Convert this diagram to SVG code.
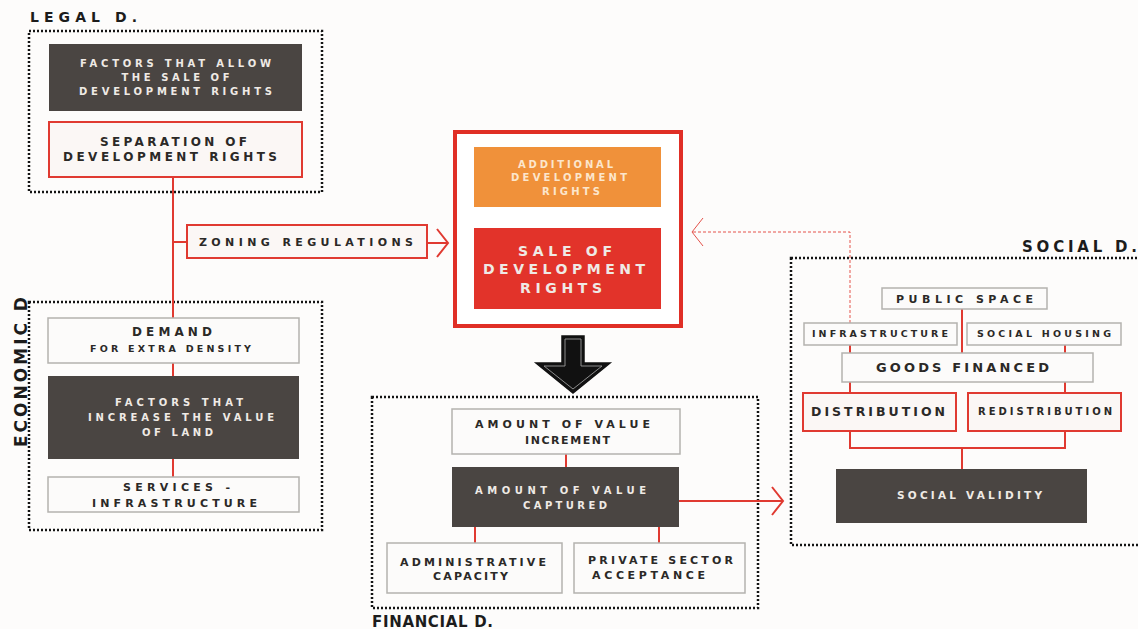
<svg xmlns="http://www.w3.org/2000/svg" width="1138" height="629" viewBox="0 0 1138 629">
<style>
.t{font-family:"DejaVu Sans","Liberation Sans",sans-serif;font-weight:bold;text-anchor:middle}
.d{fill:#2b2927}
.w{fill:#efeae5}
.o{fill:#fce6cc}
.sec{font-family:"DejaVu Sans","Liberation Sans",sans-serif;font-weight:bold;fill:#1c1c1c}
.dot{fill:none;stroke:#141414;stroke-width:2.5;stroke-dasharray:2 2}
.dark{fill:#4a4542}
.gray{fill:#fcfbfa;stroke:#b4b2af;stroke-width:1.5}
.redb{fill:#fbf7f5;stroke:#e03a31;stroke-width:2}
.conn{fill:none;stroke:#e03a31;stroke-width:2}
.dash{fill:none;stroke:#e4524a;stroke-width:1;stroke-dasharray:3 2}
</style>
<rect width="1138" height="629" fill="#fdfcfb"/>

<!-- section frames and labels -->
<g id="legal-d">
<rect class="dot" x="29" y="31" width="293" height="161"/>
<text class="sec" x="30" y="22" font-size="14" textLength="107" lengthAdjust="spacing">LEGAL D.</text>
</g>
<g id="economic-d">
<rect class="dot" x="29" y="302" width="293" height="228"/>
<text class="sec" transform="translate(27,372) rotate(-90)" x="0" y="0" font-size="17" text-anchor="middle" textLength="150" lengthAdjust="spacing">ECONOMIC D</text>
</g>
<g id="financial-d">
<rect class="dot" x="372" y="397" width="386" height="211"/>
<text class="sec" x="372" y="627" font-size="15" textLength="121" lengthAdjust="spacing">FINANCIAL D.</text>
</g>
<g id="social-d">
<rect class="dot" x="791" y="258" width="380" height="287"/>
<text class="sec" x="1022" y="252" font-size="15" textLength="115" lengthAdjust="spacing">SOCIAL D.</text>
</g>

<!-- connectors -->
<g id="connectors">
<path class="conn" d="M173 177 V318 M173 242 H187 M173 363 V376 M173 459 V477"/>
<path class="conn" d="M427 243 H447 M437 229 L448 243 L437 257"/>
<path class="conn" d="M566 454 V467 M475 527 V543 M659 527 V543"/>
<path class="conn" d="M679 501 H782 M772 487 L783 501 L772 515"/>
<path class="conn" d="M962 309 V353 M850 345 V353 M1065 345 V353 M850 382 V393 M1065 382 V393 M850 431 V448 H1065 V431 M962 448 V469"/>
<path class="dash" d="M850 323 V232 H693"/>
<path fill="none" stroke="#e4524a" stroke-width="1" d="M703 218 L692 232 L703 246"/>
<g id="down-arrow">
<polygon points="562,336 584,336 584,363 610,363 573,393 536,363 562,363" fill="#111" stroke="#111" stroke-width="1.5"/>
<polygon points="565,339 581,339 581,366 602,366 573,389 544,366 565,366" fill="#111" stroke="#9a9a9a" stroke-width="0.9"/>
</g>
</g>

<!-- legal nodes -->
<g id="factors-allow">
<rect class="dark" x="49" y="44" width="253" height="67"/>
<text class="t w" font-size="10"><tspan x="175.5" y="66.6" textLength="191" lengthAdjust="spacing">FACTORS THAT ALLOW</tspan><tspan x="175.5" y="80.6" textLength="108" lengthAdjust="spacing">THE SALE OF</tspan><tspan x="175.5" y="94.6" textLength="193" lengthAdjust="spacing">DEVELOPMENT RIGHTS</tspan></text>
</g>
<g id="separation">
<rect class="redb" x="49" y="122" width="253" height="55"/>
<text class="t d" font-size="12"><tspan x="173.5" y="146.3" textLength="147" lengthAdjust="spacing">SEPARATION OF</tspan><tspan x="170" y="161.3" textLength="214" lengthAdjust="spacing">DEVELOPMENT RIGHTS</tspan></text>
</g>
<g id="zoning">
<rect class="redb" x="187" y="225" width="240" height="33"/>
<text class="t d" font-size="11" x="306" y="246" textLength="214" lengthAdjust="spacing">ZONING REGULATIONS</text>
</g>

<!-- central nodes -->
<g id="sale-frame">
<rect x="455" y="132" width="226" height="194" fill="#ffffff" stroke="#e02f26" stroke-width="4"/>
</g>
<g id="additional">
<rect x="474" y="147" width="187" height="60" fill="#f0913a"/>
<text class="t o" font-size="10"><tspan x="565.5" y="167.6" textLength="95" lengthAdjust="spacing">ADDITIONAL</tspan><tspan x="569" y="180.6" textLength="116" lengthAdjust="spacing">DEVELOPMENT</tspan><tspan x="571" y="194.6" textLength="58" lengthAdjust="spacing">RIGHTS</tspan></text>
</g>
<g id="sale">
<rect x="474" y="228" width="187" height="81" fill="#e2332a"/>
<text class="t w" font-size="14"><tspan x="565" y="256" textLength="94" lengthAdjust="spacing">SALE OF</tspan><tspan x="564" y="274" textLength="162" lengthAdjust="spacing">DEVELOPMENT</tspan><tspan x="561" y="293" textLength="82" lengthAdjust="spacing">RIGHTS</tspan></text>
</g>

<!-- economic nodes -->
<g id="demand">
<rect class="gray" x="48" y="318" width="251" height="45"/>
<text class="t d"><tspan x="172" y="336.3" font-size="12" textLength="80" lengthAdjust="spacing">DEMAND</tspan><tspan x="170.5" y="352.4" font-size="9.5" textLength="161" lengthAdjust="spacing">FOR EXTRA DENSITY</tspan></text>
</g>
<g id="factors-increase">
<rect class="dark" x="48" y="376" width="251" height="83"/>
<text class="t w" font-size="10"><tspan x="179" y="405.6" textLength="128" lengthAdjust="spacing">FACTORS THAT</tspan><tspan x="181" y="420.6" textLength="186" lengthAdjust="spacing">INCREASE THE VALUE</tspan><tspan x="177.5" y="435.6" textLength="71" lengthAdjust="spacing">OF LAND</tspan></text>
</g>
<g id="services">
<rect class="gray" x="48" y="477" width="251" height="35"/>
<text class="t d" font-size="11"><tspan x="176.5" y="491" textLength="107" lengthAdjust="spacing">SERVICES -</tspan><tspan x="174.5" y="507" textLength="165" lengthAdjust="spacing">INFRASTRUCTURE</tspan></text>
</g>

<!-- financial nodes -->
<g id="increment">
<rect class="gray" x="452" y="409" width="228" height="45"/>
<text class="t d" font-size="11"><tspan x="562.5" y="428" textLength="175" lengthAdjust="spacing">AMOUNT OF VALUE</tspan><tspan x="567.5" y="444" textLength="85" lengthAdjust="spacing">INCREMENT</tspan></text>
</g>
<g id="captured">
<rect class="dark" x="452" y="467" width="227" height="60"/>
<text class="t w" font-size="10"><tspan x="560.5" y="493.6" textLength="171" lengthAdjust="spacing">AMOUNT OF VALUE</tspan><tspan x="565" y="508.6" textLength="84" lengthAdjust="spacing">CAPTURED</tspan></text>
</g>
<g id="administrative">
<rect class="gray" x="387" y="543" width="175" height="50"/>
<text class="t d" font-size="11"><tspan x="473" y="566" textLength="146" lengthAdjust="spacing">ADMINISTRATIVE</tspan><tspan x="470.5" y="580" textLength="75" lengthAdjust="spacing">CAPACITY</tspan></text>
</g>
<g id="private">
<rect class="gray" x="574" y="543" width="171" height="50"/>
<text class="t d" font-size="11"><tspan x="660.5" y="564" textLength="145" lengthAdjust="spacing">PRIVATE SECTOR</tspan><tspan x="648.5" y="579" textLength="113" lengthAdjust="spacing">ACCEPTANCE</tspan></text>
</g>

<!-- social nodes -->
<g id="public-space">
<rect class="gray" x="882" y="288" width="165" height="21"/>
<text class="t d" font-size="11" x="964.5" y="303" textLength="137" lengthAdjust="spacing">PUBLIC SPACE</text>
</g>
<g id="infrastructure">
<rect class="gray" x="804" y="323" width="153" height="22"/>
<text class="t d" font-size="9.5" x="880" y="337.4" textLength="136" lengthAdjust="spacing">INFRASTRUCTURE</text>
</g>
<g id="social-housing">
<rect class="gray" x="967" y="323" width="154" height="22"/>
<text class="t d" font-size="9.5" x="1044" y="337.4" textLength="134" lengthAdjust="spacing">SOCIAL HOUSING</text>
</g>
<g id="goods-financed">
<rect class="gray" x="842" y="353" width="251" height="29"/>
<text class="t d" font-size="13" x="962.5" y="371.7" textLength="173" lengthAdjust="spacing">GOODS FINANCED</text>
</g>
<g id="distribution">
<rect class="redb" x="803" y="393" width="153" height="38"/>
<text class="t d" font-size="12.5" x="878" y="415.5" textLength="134" lengthAdjust="spacing">DISTRIBUTION</text>
</g>
<g id="redistribution">
<rect class="redb" x="968" y="393" width="153" height="38"/>
<text class="t d" font-size="10" x="1045" y="414.6" textLength="134" lengthAdjust="spacing">REDISTRIBUTION</text>
</g>
<g id="social-validity">
<rect class="dark" x="836" y="469" width="251" height="54"/>
<text class="t w" font-size="10.5" x="969.5" y="498.8" textLength="145" lengthAdjust="spacing">SOCIAL VALIDITY</text>
</g>
</svg>
